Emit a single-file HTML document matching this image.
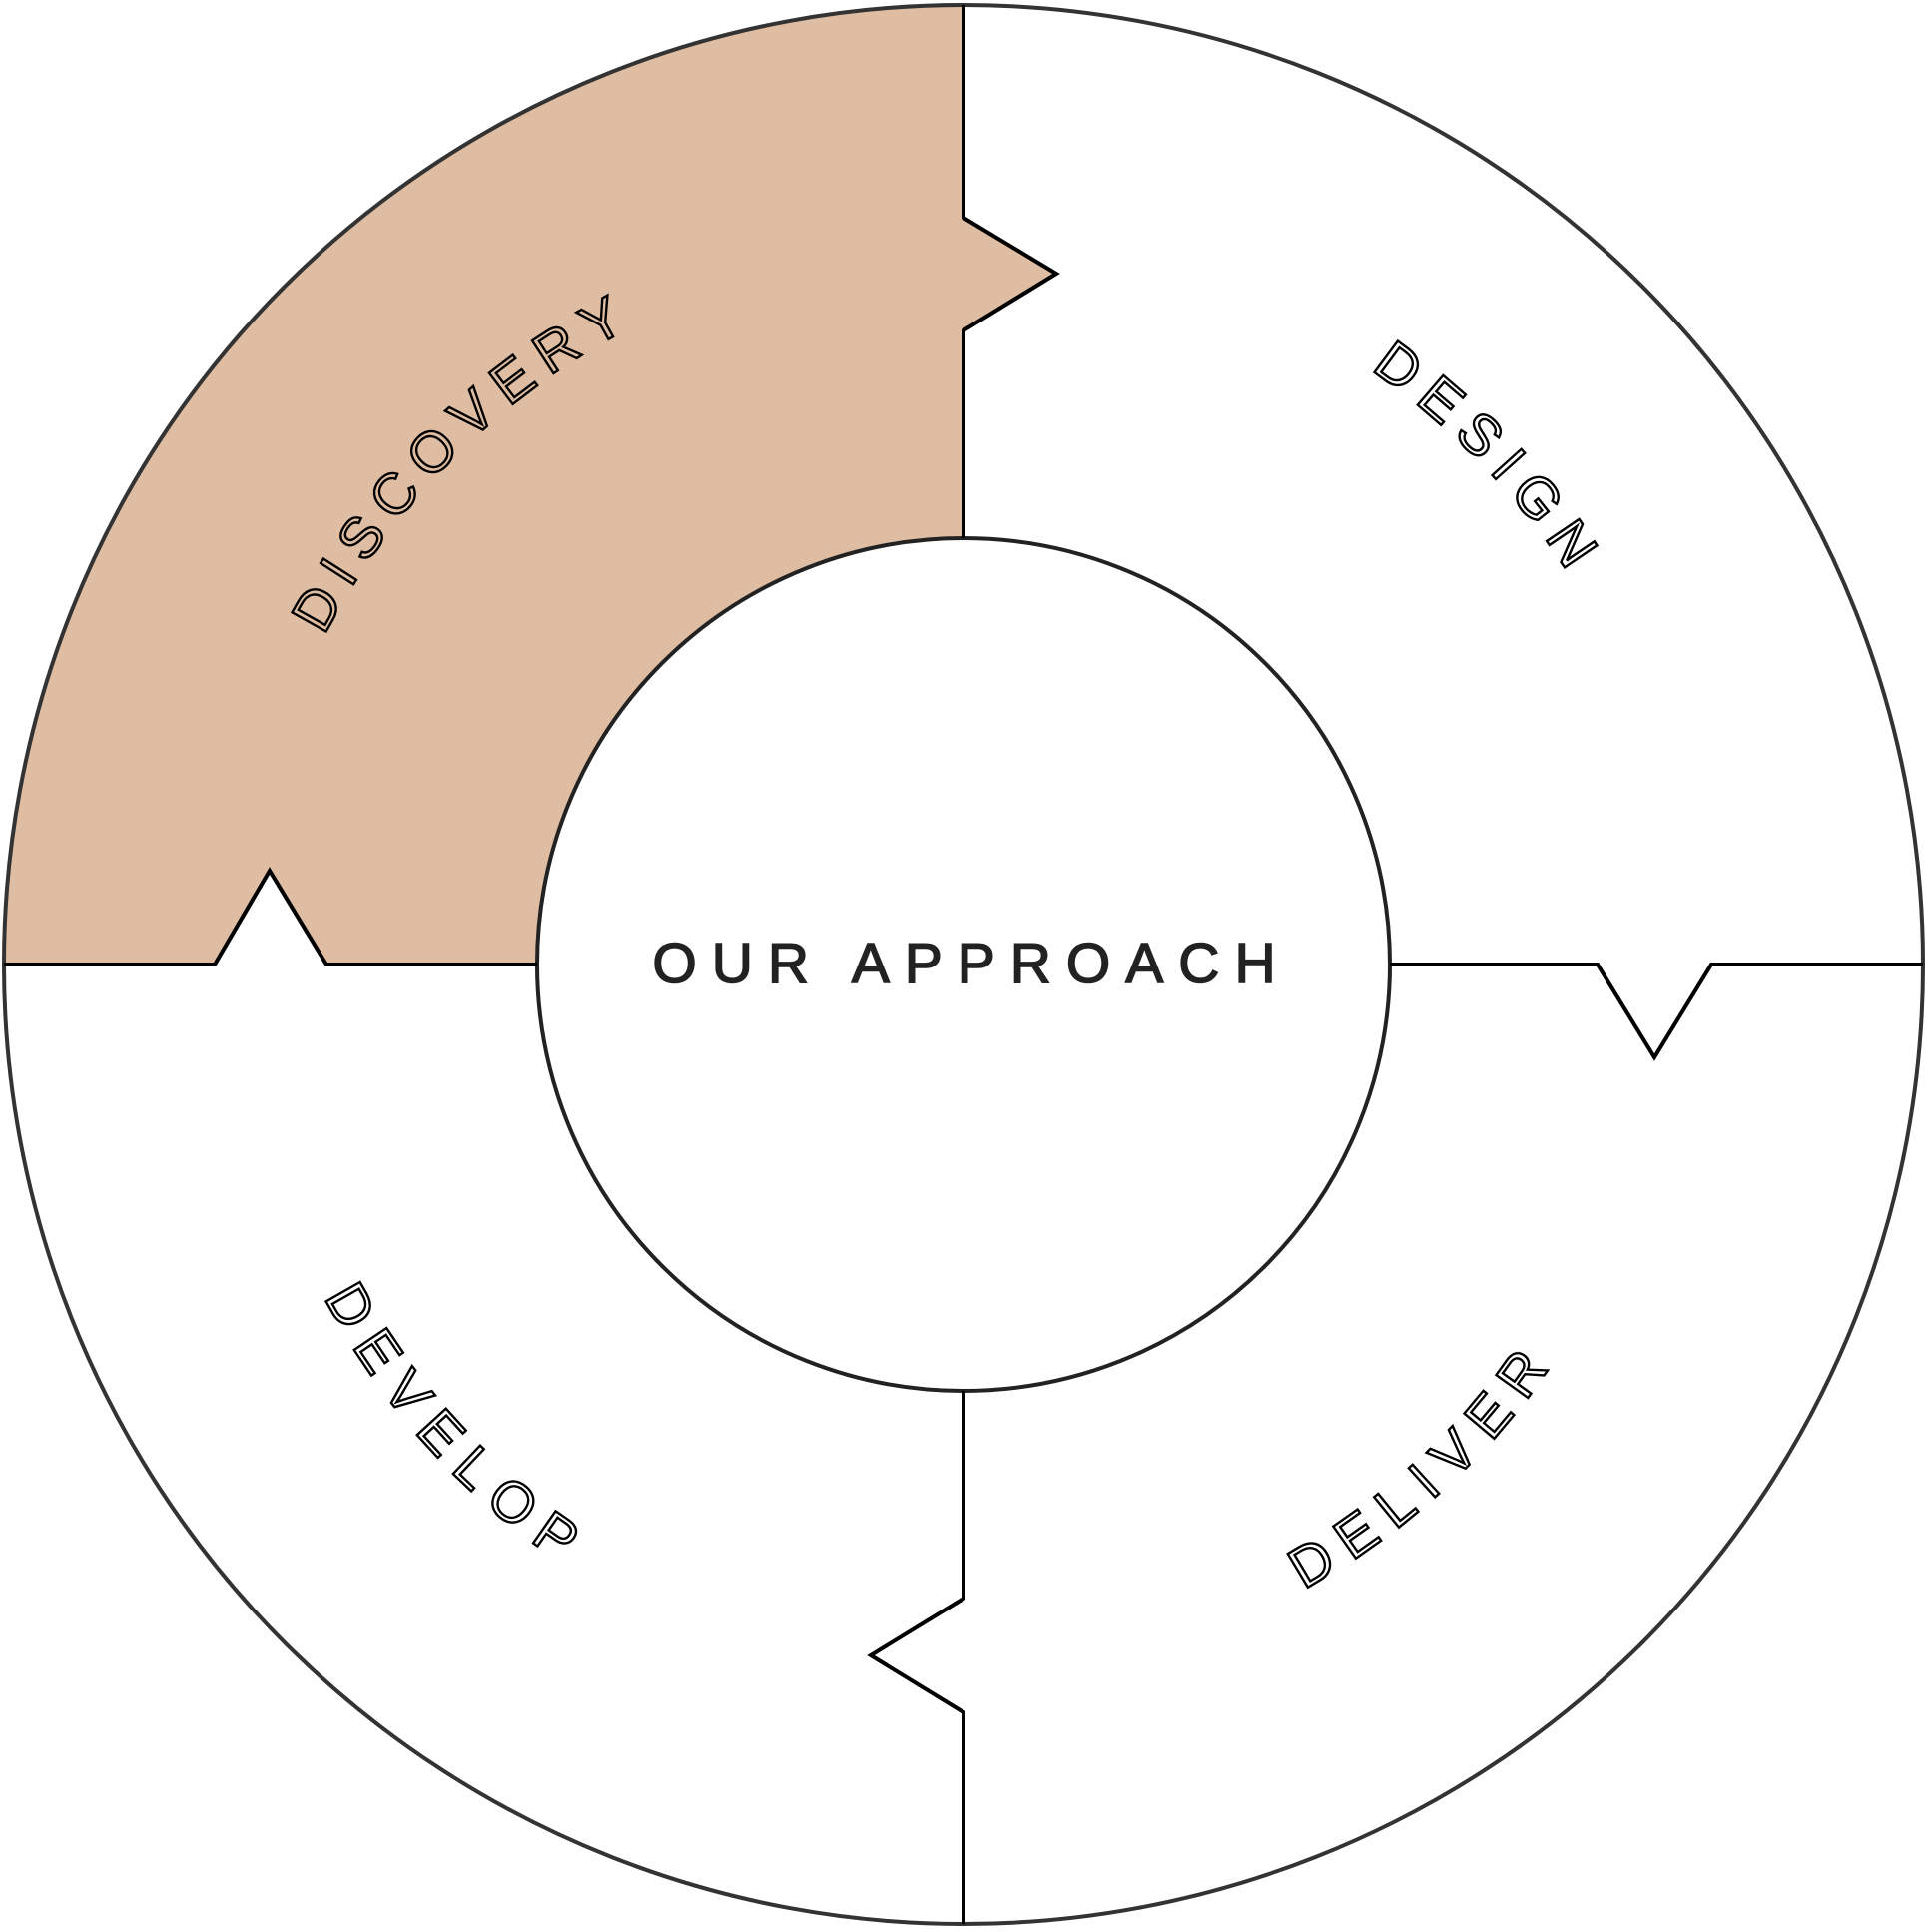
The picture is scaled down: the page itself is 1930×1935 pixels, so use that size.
<!DOCTYPE html>
<html><head><meta charset="utf-8"><style>
html,body{margin:0;padding:0;background:#fff;}
svg{display:block;}
</style></head><body>
<svg width="1930" height="1935" viewBox="0 0 1930 1935" xmlns="http://www.w3.org/2000/svg">
<rect width="1930" height="1935" fill="#fff"/>
<path d="M 4 966 L 215 966 L 270 872 L 327 966 L 538 966 A 427 427 0 0 1 965 539 L 965 331 L 1058 274 L 965 218 L 965 5 A 961 961 0 0 0 4 966 Z" fill="#DFBDA2"/>
<circle cx="965" cy="966" r="961" fill="none" stroke="#333" stroke-width="4"/>
<circle cx="965" cy="966" r="427" fill="#fff" stroke="#222" stroke-width="4"/>
<g fill="none" stroke="#000" stroke-width="4" stroke-linejoin="miter">
<polyline points="965,5 965,218 1058,274 965,331 965,539"/>
<polyline points="4,966 215,966 270,872 327,966 538,966"/>
<polyline points="1392,966 1600,966 1657,1059 1714,966 1926,966"/>
<polyline points="965,1393 965,1601 872,1658 965,1715 965,1927"/>
</g>
<path id="a1" d="M 271 1157 A 720 720 0 0 1 1146 269" fill="none" stroke="none"/>
<path id="a2" d="M 785 267 A 722 722 0 0 1 1660 1160" fill="none" stroke="none"/>
<path id="a3" d="M 281 737 A 721 721 0 0 0 1109 1673" fill="none" stroke="none"/>
<path id="a4" d="M 745 1644 A 713 713 0 0 0 1662 818" fill="none" stroke="none"/>
<g font-family="Liberation Sans, sans-serif" font-size="57" letter-spacing="13" stroke="#000" stroke-width="2.4">
<text fill="#DFBDA2" text-anchor="middle"><textPath href="#a1" startOffset="50.5%">DISCOVERY</textPath></text>
<text fill="#fff" text-anchor="middle"><textPath href="#a2" startOffset="50.5%">DESIGN</textPath></text>
<text fill="#fff" text-anchor="middle" letter-spacing="15"><textPath href="#a3" startOffset="50.7%">DEVELOP</textPath></text>
<text fill="#fff" text-anchor="middle" letter-spacing="15"><textPath href="#a4" startOffset="50.5%">DELIVER</textPath></text>
</g>
<text x="973" y="984" text-anchor="middle" font-family="Liberation Sans, sans-serif" font-size="57" letter-spacing="15" fill="#222" stroke="#222" stroke-width="1.5">OUR APPROACH</text>
</svg>
</body></html>
